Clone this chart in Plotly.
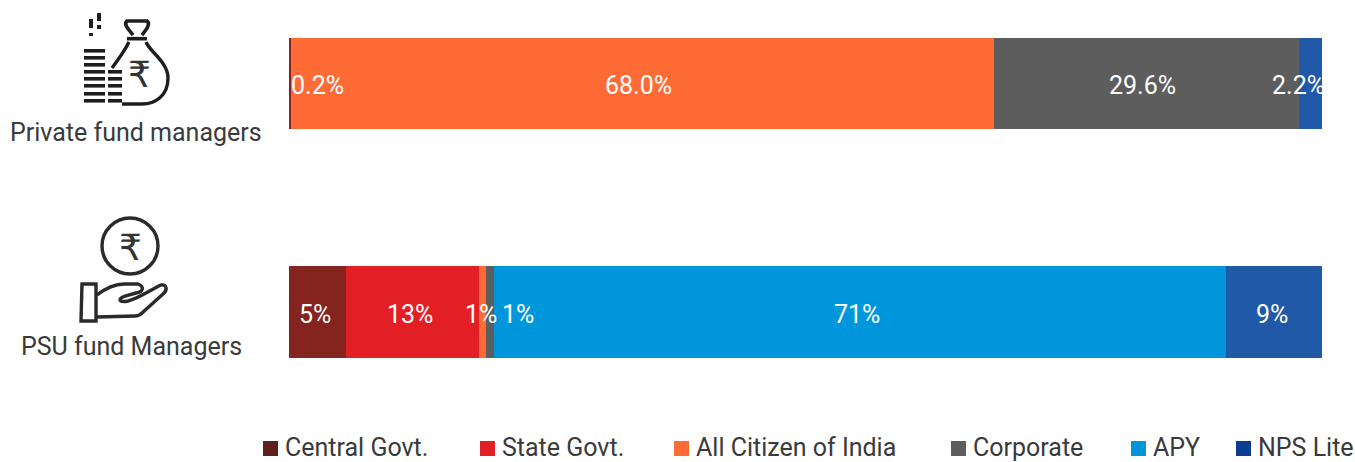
import plotly.graph_objects as go

W, H = 1355, 462
L, R = 289, 1322

categories = ["PSU fund Managers", "Private fund managers"]
series_names = ["Central Govt.", "State Govt.", "All Citizen of India", "Corporate", "APY", "NPS Lite"]
central = [5.47, 0.2]
state = [12.97, 0]
citizen = [0.63, 68.0]
corporate = [0.73, 29.6]
apy = [70.9, 0]
nps = [9.3, 2.2]
bar_colors = ["#85241F", "#E31F26", "#FF6B35", "#5D5D5D", "#0096DC", "#2059A8"]
legend_colors = ["#5F1F1A", "#E31F26", "#FF6B35", "#5D5D5D", "#0096DC", "#0A3D91"]
legend_x = [263, 480, 674, 951, 1131, 1236]

label_text = ["0.2%", "68.0%", "29.6%", "2.2%", "5%", "13%", "1%", "1%", "71%", "9%"]
label_x = [2.8, 33.8, 82.6, 97.7, 2.5, 11.7, 18.6, 22.2, 55.0, 95.2]
label_cat = [1, 1, 1, 1, 0, 0, 0, 0, 0, 0]

FONT = "Roboto"
TXT = "#3A3A3A"

def px(x):
    return (x - L) / (R - L)

def py(y):
    return 1 - y / H

def path(cmds):
    out = []
    for c in cmds:
        if isinstance(c, str):
            out.append(c)
        else:
            out.append(f"{px(c[0]):.5f},{py(c[1]):.5f}")
    return " ".join(out)

fig = go.Figure()
for name, vals, col in zip(series_names, [central, state, citizen, corporate, apy, nps], bar_colors):
    fig.add_trace(go.Bar(y=categories, x=vals, name=name, orientation="h", width=0.4,
                         marker=dict(color=col, line=dict(width=0)), showlegend=False,
                         hoverinfo="x+name"))

shapes = []
annotations = []

for t, x, c in zip(label_text, label_x, label_cat):
    annotations.append(dict(x=x, y=categories[c], xref="x", yref="y", text=t, showarrow=False,
                            xanchor="center", yanchor="middle", yshift=-2,
                            font=dict(family=FONT, size=25, color="white")))

for name, x, col in zip(series_names, legend_x, legend_colors):
    shapes.append(dict(type="rect", xref="paper", yref="paper", x0=px(x), x1=px(x + 15),
                       y0=py(456), y1=py(441), fillcolor=col, line=dict(width=0)))
    annotations.append(dict(x=px(x + 20), y=py(447.5), xref="paper", yref="paper", text=name,
                            showarrow=False, xanchor="left", yanchor="middle",
                            font=dict(family=FONT, size=25, color=TXT)))

annotations.append(dict(x=px(136), y=py(133), xref="paper", yref="paper", text=categories[1],
                        showarrow=False, xanchor="center", yanchor="middle",
                        font=dict(family=FONT, size=25, color=TXT)))
annotations.append(dict(x=px(131), y=py(346.5), xref="paper", yref="paper", text=categories[0],
                        showarrow=False, xanchor="center", yanchor="middle",
                        font=dict(family=FONT, size=25, color=TXT)))

ICON = "#1E1E1E"
def rect(x0, y0, x1, y1, col=ICON):
    shapes.append(dict(type="rect", xref="paper", yref="paper", x0=px(x0), x1=px(x1),
                       y0=py(y1), y1=py(y0), fillcolor=col, line=dict(width=0)))

def stroke(cmds, w=3.4, col=ICON):
    shapes.append(dict(type="path", xref="paper", yref="paper", path=path(cmds),
                       line=dict(color=col, width=w), fillcolor="rgba(0,0,0,0)"))

# falling coins
rect(89, 19, 93, 28); rect(89, 33, 93, 36); rect(97, 13, 101, 21); rect(97, 25, 101, 29)
# coin stacks
for y in [49, 56, 63, 70, 77, 84, 92, 99]:
    rect(84, y, 105, y + 3.6)
for y in [70, 77, 84, 92, 99]:
    rect(108, y, 122, y + 3.6)
# money bag
stroke(["M", (133, 35), "C", (129, 30), (123, 24), (127, 21), "L", (147, 21),
        "C", (151, 24), (146, 30), (142, 35)], w=3.6)
stroke(["M", (127, 38.7), "L", (147, 38.7)], w=3.6)
stroke(["M", (129, 42), "C", (125, 50), (118, 60), (112, 68)])
stroke(["M", (146, 42), "C", (150, 52), (168, 62), (168, 78), "C", (168, 96), (155, 104), (142, 104),
        "L", (122, 104)])
annotations.append(dict(x=px(139), y=py(74), xref="paper", yref="paper", text="₹", showarrow=False,
                        xanchor="center", yanchor="middle",
                        font=dict(family="DejaVu Sans", size=36, color="#333333")))
# hand with coin
shapes.append(dict(type="circle", xref="paper", yref="paper", x0=px(102), x1=px(158), y0=py(274), y1=py(218),
                   line=dict(color="#2A2A2A", width=3.4), fillcolor="rgba(0,0,0,0)"))
annotations.append(dict(x=px(130), y=py(247), xref="paper", yref="paper", text="₹", showarrow=False,
                        xanchor="center", yanchor="middle",
                        font=dict(family="DejaVu Sans", size=36, color="#333333")))
stroke(["M", (82, 284), "L", (96, 284), "L", (96, 321), "L", (81, 321), "Z"], w=3.4, col="#2A2A2A")
stroke(["M", (97, 295), "C", (106, 288), (114, 284), (124, 284), "L", (138, 284),
        "C", (145, 287), (143, 292), (136, 293), "L", (125, 296), "C", (117, 299), (119, 303), (128, 301),
        "C", (140, 298), (150, 290), (161, 285), "C", (168, 284), (167, 291), (163, 294),
        "L", (142, 313), "C", (140, 315), (138, 316), (135, 316), "L", (97, 317)], w=3.4, col="#2A2A2A")

fig.update_layout(
    width=W, height=H, barmode="stack", plot_bgcolor="white", paper_bgcolor="white",
    margin=dict(l=L, r=W - R, t=0, b=0), bargap=0.6,
    xaxis=dict(range=[0, 100], visible=False, fixedrange=True),
    yaxis=dict(type="category", categoryorder="array", categoryarray=categories,
               range=[-0.656, 1.365], visible=False, fixedrange=True),
    shapes=shapes, annotations=annotations, showlegend=False,
    font=dict(family=FONT),
)
fig.write_html("out.html", config={"displayModeBar": False},
               post_script="document.body.style.margin='0';document.documentElement.style.overflow='hidden';")
